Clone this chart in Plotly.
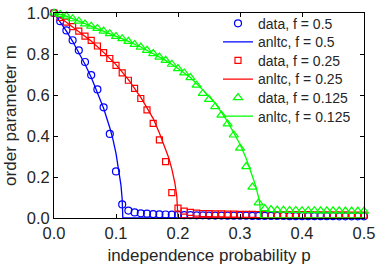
import plotly.graph_objects as go

# ---- data ----
p = [0.00, 0.01, 0.02, 0.03, 0.04, 0.05, 0.06, 0.07, 0.08, 0.09,
     0.10, 0.11, 0.12, 0.13, 0.14, 0.15, 0.16, 0.17, 0.18, 0.19,
     0.20, 0.21, 0.22, 0.23, 0.24, 0.25, 0.26, 0.27, 0.28, 0.29,
     0.30, 0.31, 0.32, 0.33, 0.34, 0.35, 0.36, 0.37, 0.38, 0.39,
     0.40, 0.41, 0.42, 0.43, 0.44, 0.45, 0.46, 0.47, 0.48, 0.49, 0.50]

m_data_05 = [1.000, 0.960, 0.915, 0.867, 0.818, 0.761, 0.697, 0.627, 0.540, 0.410,
             0.227, 0.066, 0.036, 0.027, 0.023, 0.021, 0.019, 0.018, 0.017, 0.016,
             0.015, 0.014, 0.014, 0.013, 0.013, 0.012, 0.012, 0.012, 0.011, 0.011,
             0.011, 0.011, 0.010, 0.010, 0.010, 0.010, 0.010, 0.010, 0.009, 0.009,
             0.009, 0.009, 0.009, 0.009, 0.009, 0.009, 0.008, 0.008, 0.008, 0.008, 0.008]

m_data_025 = [1.000, 0.978, 0.955, 0.934, 0.912, 0.887, 0.866, 0.839, 0.807, 0.778,
              0.745, 0.708, 0.672, 0.632, 0.583, 0.527, 0.462, 0.381, 0.275, 0.124,
              0.048, 0.034, 0.027, 0.024, 0.022, 0.021, 0.020, 0.020, 0.019, 0.019,
              0.018, 0.018, 0.018, 0.017, 0.017, 0.017, 0.017, 0.016, 0.016, 0.016,
              0.016, 0.016, 0.015, 0.015, 0.015, 0.015, 0.015, 0.015, 0.014, 0.014, 0.014]

m_data_0125 = [1.000, 0.993, 0.985, 0.972, 0.960, 0.947, 0.936, 0.925, 0.912, 0.899,
               0.886, 0.875, 0.862, 0.847, 0.834, 0.818, 0.802, 0.785, 0.769, 0.750,
               0.729, 0.708, 0.685, 0.648, 0.608, 0.579, 0.543, 0.502, 0.459, 0.405,
               0.341, 0.251, 0.151, 0.074, 0.046, 0.041, 0.039, 0.038, 0.037, 0.037,
               0.036, 0.036, 0.036, 0.035, 0.035, 0.035, 0.035, 0.034, 0.034, 0.034, 0.034]

p_anl_05 = [0.00, 0.01, 0.02, 0.03, 0.04, 0.05, 0.06, 0.07, 0.08, 0.09,
            0.095, 0.10, 0.105, 0.108, 0.110, 0.111, 0.50]
m_anl_05 = [1.000, 0.958, 0.912, 0.862, 0.808, 0.750, 0.687, 0.615, 0.535, 0.440,
            0.385, 0.315, 0.215, 0.160, 0.090, 0.000, 0.000]

p_anl_025 = [0.00, 0.02, 0.04, 0.06, 0.08, 0.10, 0.12, 0.14, 0.15, 0.16,
             0.17, 0.18, 0.185, 0.19, 0.195, 0.198, 0.200, 0.50]
m_anl_025 = [1.000, 0.955, 0.910, 0.863, 0.808, 0.748, 0.675, 0.588, 0.537, 0.485,
             0.415, 0.339, 0.294, 0.240, 0.170, 0.107, 0.000, 0.000]

p_anl_0125 = [0.00, 0.02, 0.04, 0.06, 0.08, 0.10, 0.12, 0.14, 0.16, 0.18,
              0.20, 0.22, 0.24, 0.26, 0.28, 0.29, 0.30, 0.31, 0.32, 0.325,
              0.33, 0.332, 0.3335, 0.50]
m_anl_0125 = [1.000, 0.985, 0.960, 0.936, 0.912, 0.886, 0.862, 0.834, 0.802, 0.769,
              0.729, 0.685, 0.625, 0.560, 0.470, 0.418, 0.360, 0.290, 0.205, 0.160,
              0.100, 0.065, 0.000, 0.000]

x_ticks = [0.0, 0.1, 0.2, 0.3, 0.4, 0.5]
y_ticks = [0.0, 0.2, 0.4, 0.6, 0.8, 1.0]

BLUE, RED, GREEN = "#0000ff", "#ff0000", "#00ff00"
FONT = "Liberation Sans, Arial, sans-serif"
TXT = "#262626"

fig = go.Figure()
series = [
    ("0.5", p, m_data_05, p_anl_05, m_anl_05, BLUE, "circle-open", 7),
    ("0.25", p, m_data_025, p_anl_025, m_anl_025, RED, "square-open", 6),
    ("0.125", p, m_data_0125, p_anl_0125, m_anl_0125, GREEN, "triangle-up-open", 8),
]
legend_ids = ["legend", "legend2", "legend3", "legend4", "legend5", "legend6"]
k = 0
for f, px, md, pa, ma, col, sym, sz in series:
    fig.add_trace(go.Scatter(
        x=px, y=md, mode="markers", name=f"data, f = {f}", legend=legend_ids[k],
        marker=dict(symbol=sym, size=sz, color=col, line=dict(width=1.2, color=col)),
        cliponaxis=False))
    k += 1
    fig.add_trace(go.Scatter(
        x=pa, y=ma, mode="lines", name=f"anltc, f = {f}", legend=legend_ids[k],
        line=dict(color=col, width=1.3), cliponaxis=False))
    k += 1

axis_common = dict(
    showline=True, linecolor="black", linewidth=1, mirror="ticks",
    ticks="inside", ticklen=4, tickcolor="black", tickwidth=1,
    showgrid=False, zeroline=False, tickformat=".1f", automargin=False,
    tickfont=dict(family=FONT, size=16.5, color=TXT),
)
fig.update_xaxes(range=[0, 0.5], tickvals=x_ticks,
                 title=dict(text="independence probability p", standoff=8,
                            font=dict(family=FONT, size=17, color=TXT)),
                 **axis_common)
fig.update_yaxes(range=[0, 1], tickvals=y_ticks,
                 title=dict(text="order parameter m", standoff=5,
                            font=dict(family=FONT, size=17, color=TXT)),
                 **axis_common)

# legend entries: one legend box per entry so the row pitch matches the reference
PLOT_TOP, PLOT_BOTTOM = 12.5, 218.5
legend_layout = {}
for i, lid in enumerate(legend_ids):
    ypx = 23.3 + 18.65 * i
    legend_layout[lid] = dict(
        x=0.529, y=(PLOT_BOTTOM - ypx) / (PLOT_BOTTOM - PLOT_TOP),
        xanchor="left", yanchor="middle",
        bgcolor="rgba(0,0,0,0)", borderwidth=0,
        font=dict(family=FONT, size=14, color=TXT))

fig.update_layout(
    width=382, height=267,
    margin=dict(l=53.5, r=17.5, t=12.5, b=48.5, autoexpand=False),
    paper_bgcolor="white", plot_bgcolor="white",
    font=dict(family=FONT, color=TXT),
    showlegend=True,
    **legend_layout,
)

fig.write_html("out.html", config={"displayModeBar": False},
               post_script="document.body.style.margin='0';document.body.style.overflow='hidden';")
